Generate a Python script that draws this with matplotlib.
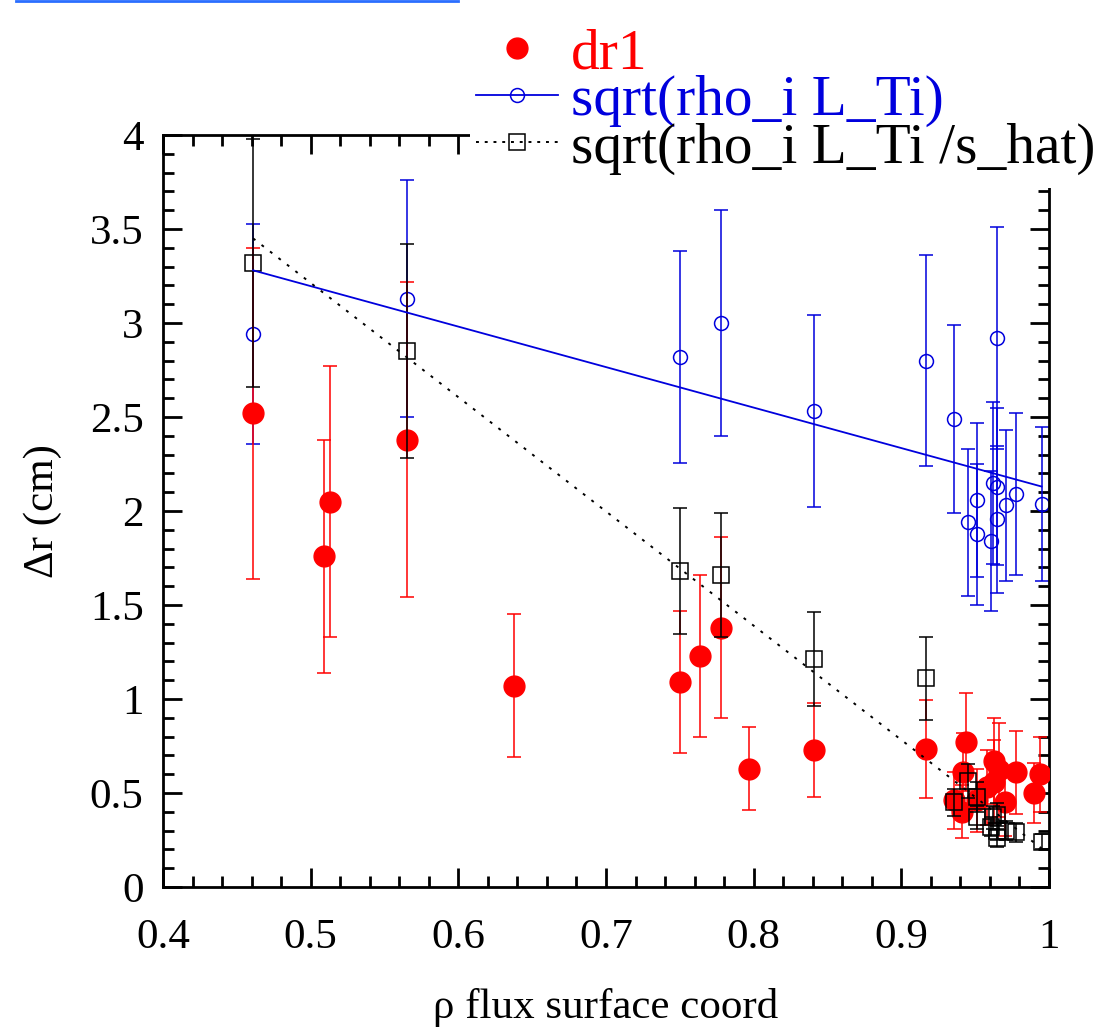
import matplotlib
matplotlib.use('Agg')
import matplotlib.pyplot as plt
from matplotlib.lines import Line2D
from matplotlib.patches import Rectangle
from matplotlib.ticker import MultipleLocator, FuncFormatter

plt.rcParams['font.family'] = ['Liberation Serif', 'DejaVu Serif']

# dr1 measurements
rho_dr1 = [0.461, 0.509, 0.513, 0.565, 0.638, 0.750, 0.764, 0.778, 0.797, 0.841,
           0.917, 0.936, 0.941, 0.942, 0.944, 0.951, 0.958, 0.963, 0.963, 0.966,
           0.970, 0.978, 0.990, 0.994]
dr1 = [2.52, 1.76, 2.05, 2.38, 1.07, 1.09, 1.23, 1.38, 0.63, 0.73,
       0.735, 0.46, 0.40, 0.61, 0.77, 0.46, 0.53, 0.67, 0.56, 0.62,
       0.45, 0.61, 0.50, 0.60]
dr1_err = [0.88, 0.62, 0.72, 0.84, 0.38, 0.38, 0.43, 0.48, 0.22, 0.25,
           0.26, 0.15, 0.14, 0.21, 0.26, 0.17, 0.20, 0.23, 0.22, 0.25,
           0.18, 0.22, 0.16, 0.20]

# sqrt(rho_i L_Ti) and sqrt(rho_i L_Ti / s_hat) on the same radii
rho = [0.461, 0.565, 0.750, 0.778, 0.841, 0.917, 0.936, 0.945, 0.951, 0.951,
       0.961, 0.962, 0.965, 0.965, 0.965, 0.971, 0.978, 0.995]
sq_lti = [2.94, 3.13, 2.82, 3.00, 2.53, 2.80, 2.49, 1.94, 2.06, 1.875,
          1.84, 2.15, 2.13, 1.955, 2.92, 2.03, 2.09, 2.035]
sq_lti_err = [0.585, 0.63, 0.565, 0.60, 0.51, 0.56, 0.50, 0.39, 0.41, 0.375,
              0.37, 0.43, 0.42, 0.39, 0.59, 0.40, 0.43, 0.41]
sq_shat = [3.32, 2.85, 1.68, 1.66, 1.21, 1.11, 0.45, 0.565, 0.48, 0.37,
           0.32, 0.37, 0.385, 0.30, 0.26, 0.30, 0.29, 0.24]
sq_shat_err = [0.66, 0.57, 0.335, 0.33, 0.25, 0.22, 0.07, 0.09, 0.08, 0.06,
               0.05, 0.06, 0.06, 0.05, 0.05, 0.05, 0.05, 0.04]

# linear fits
fit_rho = [0.461, 0.995]
fit_lti = [3.28, 2.13]
fit_shat = [3.45, 0.205]

red = '#ff0000'
blue = '#0000dd'

fig = plt.figure(figsize=(10.97, 10.28), dpi=100)
ax = fig.add_axes([0.1486, 0.1372, 0.8076, 0.7315])

ax.errorbar(rho, sq_lti, yerr=sq_lti_err, fmt='o', ms=10, mfc='none', mec=blue,
            mew=1.1, ecolor=blue, elinewidth=1.1, capsize=5, capthick=1.1, zorder=2)
ax.errorbar(rho_dr1, dr1, yerr=dr1_err, fmt='o', ms=15, color=red, mec=red,
            ecolor=red, elinewidth=1.1, capsize=5, capthick=1.1, zorder=3)
ax.errorbar(rho, sq_shat, yerr=sq_shat_err, fmt='s', ms=11, mfc='none', mec='black',
            mew=1.1, ecolor='black', elinewidth=1.1, capsize=5, capthick=1.1, zorder=4)
ax.plot(fit_rho, fit_lti, color=blue, lw=1.3, zorder=5)
ax.plot(fit_rho, fit_shat, color='black', lw=1.4, ls=(0, (1.5, 4)), zorder=5)

ax.set_xlim(0.4, 1.0)
ax.set_ylim(0, 4)
ax.xaxis.set_major_locator(MultipleLocator(0.1))
ax.xaxis.set_minor_locator(MultipleLocator(0.02))
ax.yaxis.set_major_locator(MultipleLocator(0.5))
ax.yaxis.set_minor_locator(MultipleLocator(0.1))
fmt = FuncFormatter(lambda v, p: '%g' % round(v, 3))
ax.xaxis.set_major_formatter(fmt)
ax.yaxis.set_major_formatter(fmt)
ax.tick_params(which='both', direction='in', top=True, right=True, width=2)
ax.tick_params(which='major', length=14, labelsize=31)
ax.tick_params(which='minor', length=8)
ax.tick_params(axis='x', pad=23)
ax.tick_params(axis='y', pad=14)
for s in ax.spines.values():
    s.set_linewidth(2)

ax.set_xlabel('ρ flux surface coord', fontsize=31, labelpad=22)
ax.set_ylabel('Δr (cm)', fontsize=31, labelpad=20)

# white key area covering the top right corner of the frame
fig.add_artist(Rectangle((470 / 1097, 1 - 188 / 1028), 1 - 470 / 1097, 188 / 1028,
                         transform=fig.transFigure, facecolor='white',
                         edgecolor='none', zorder=4))

handles = [
    Line2D([], [], ls='none', marker='o', ms=15, color=red),
    Line2D([], [], color=blue, lw=1.3, marker='o', ms=10, mfc='none', mew=1.1),
    Line2D([], [], color='black', lw=1.4, ls=(0, (1.5, 3)), marker='s', ms=11,
           mfc='none', mew=1.1),
]
labels = ['dr1', 'sqrt(rho_i L_Ti)', 'sqrt(rho_i L_Ti /s_hat)']
leg = fig.legend(handles, labels, loc='upper left', bbox_to_anchor=(0.434, 0.9728),
                 frameon=False, fontsize=41.3, handlelength=1.43, handletextpad=0.23,
                 labelspacing=-0.09, borderpad=0, borderaxespad=0)
leg.set_zorder(6)
for t, c in zip(leg.get_texts(), [red, blue, 'black']):
    t.set_color(c)

# thin bar along the top edge
fig.add_artist(Line2D([16 / 1097, 458 / 1097], [0.999, 0.999], color='#2a6eff',
                      lw=2, transform=fig.transFigure))

fig.savefig('out.png', dpi=100)
